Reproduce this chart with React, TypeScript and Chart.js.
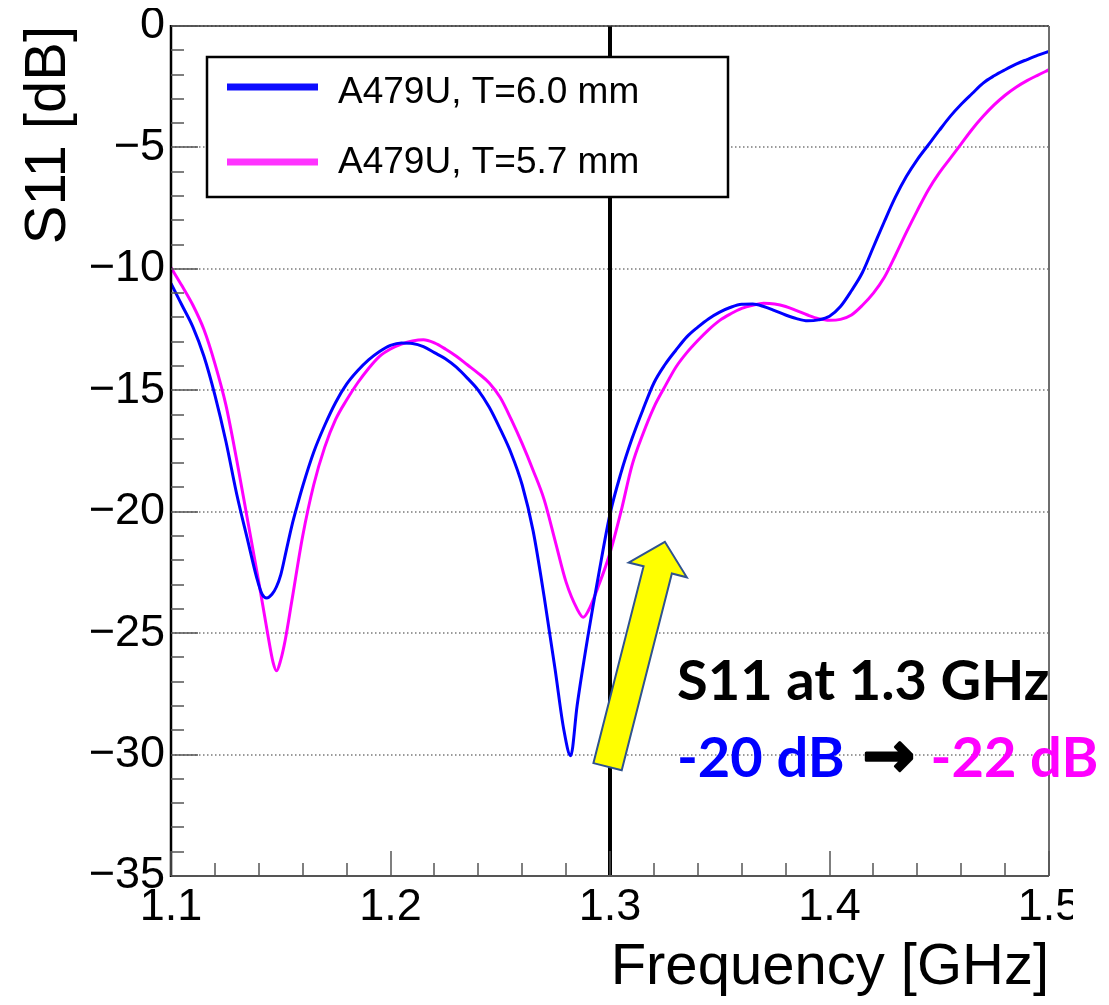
import React, { useEffect, useRef } from 'react';
import { Chart, registerables } from 'chart.js';

Chart.register(...registerables);

// ---- data ----
const seriesLabels = ['A479U, T=6.0 mm', 'A479U, T=5.7 mm'];
const seriesColors = ['#0000ff', '#ff00ff'];

const blueFreq = [
  1.100, 1.105, 1.110, 1.115, 1.120, 1.125, 1.130, 1.135, 1.139, 1.1415, 1.1436, 1.146, 1.148, 1.150,
  1.1525, 1.155, 1.1575, 1.160, 1.165, 1.170, 1.175, 1.180, 1.185, 1.190, 1.195, 1.200, 1.205, 1.210,
  1.215, 1.220, 1.225, 1.230, 1.235, 1.240, 1.245, 1.250, 1.255, 1.260, 1.265, 1.270, 1.275, 1.279,
  1.2821, 1.285, 1.290, 1.295, 1.300, 1.305, 1.310, 1.315, 1.320, 1.325, 1.330, 1.335, 1.340, 1.345,
  1.350, 1.355, 1.360, 1.365, 1.370, 1.375, 1.380, 1.385, 1.390, 1.395, 1.400, 1.405, 1.410, 1.415,
  1.420, 1.425, 1.430, 1.435, 1.440, 1.445, 1.450, 1.455, 1.460, 1.465, 1.470, 1.475, 1.480, 1.485,
  1.490, 1.495, 1.500,
];
const blueS11 = [
  -10.6, -11.5, -12.4, -13.6, -15.2, -17.1, -19.3, -21.2, -22.7, -23.4, -23.55, -23.4, -23.1, -22.6,
  -21.6, -20.6, -19.75, -18.95, -17.55, -16.45, -15.5, -14.75, -14.2, -13.75, -13.4, -13.15, -13.05, -13.07,
  -13.2, -13.45, -13.7, -14.05, -14.5, -15.0, -15.7, -16.6, -17.6, -18.9, -20.8, -23.5, -26.5, -29.0,
  -30.05, -28.0, -25.1, -22.5, -20.1, -18.4, -17.0, -15.8, -14.7, -13.95, -13.35, -12.8, -12.4, -12.05,
  -11.78, -11.58, -11.46, -11.45, -11.55, -11.72, -11.9, -12.05, -12.14, -12.1, -11.95, -11.55, -10.9, -10.15,
  -9.1, -8.05, -7.05, -6.2, -5.5, -4.9, -4.3, -3.72, -3.22, -2.78, -2.35, -2.05, -1.8, -1.57,
  -1.38, -1.2, -1.05,
];

const magentaFreq = [
  1.100, 1.105, 1.110, 1.115, 1.120, 1.125, 1.130, 1.135, 1.140, 1.144, 1.1465, 1.1481, 1.150, 1.152,
  1.155, 1.160, 1.165, 1.170, 1.175, 1.180, 1.185, 1.190, 1.195, 1.200, 1.205, 1.210, 1.215, 1.220,
  1.225, 1.230, 1.235, 1.240, 1.245, 1.250, 1.255, 1.260, 1.265, 1.270, 1.275, 1.280, 1.285, 1.2878,
  1.290, 1.295, 1.300, 1.305, 1.310, 1.315, 1.320, 1.325, 1.330, 1.335, 1.340, 1.345, 1.350, 1.355,
  1.360, 1.365, 1.370, 1.375, 1.380, 1.385, 1.390, 1.395, 1.400, 1.405, 1.410, 1.415, 1.420, 1.425,
  1.430, 1.435, 1.440, 1.445, 1.450, 1.455, 1.460, 1.465, 1.470, 1.475, 1.480, 1.485, 1.490, 1.495, 1.500,
];
const magentaS11 = [
  -9.95, -10.7, -11.5, -12.5, -13.9, -15.6, -17.9, -20.4, -22.9, -25.0, -26.2, -26.55, -26.1, -25.3,
  -23.7, -21.0, -18.9, -17.35, -16.2, -15.4, -14.7, -14.1, -13.6, -13.3, -13.1, -12.97, -12.92, -13.05,
  -13.3, -13.6, -13.95, -14.3, -14.7, -15.3, -16.2, -17.2, -18.3, -19.5, -21.2, -22.9, -24.0, -24.35,
  -24.1, -23.0, -21.7, -20.0, -18.1, -16.8, -15.7, -14.85, -14.05, -13.45, -12.95, -12.5, -12.12, -11.85,
  -11.63, -11.5, -11.42, -11.45, -11.55, -11.72, -11.9, -12.05, -12.12, -12.08, -11.9, -11.5, -11.0, -10.35,
  -9.45, -8.5, -7.6, -6.75, -6.05, -5.45, -4.85, -4.25, -3.72, -3.25, -2.85, -2.52, -2.25, -2.02, -1.8,
];

const xMin = 1.1;
const xMax = 1.5;
const xMajorStep = 0.1;
const xMinorStep = 0.02;
const yMin = -35;
const yMax = 0;
const yMajorStep = 5;
const yMinorStep = 1;

const markerFreq = 1.3;
const xTitle = 'Frequency [GHz]';
const yTitle = 'S11 [dB]';
const noteTitle = 'S11 at 1.3 GHz';
const noteFrom = '-20 dB';
const noteArrow = '\u2192';
const noteTo = '-22 dB';
// yellow arrow: tail and tip in data coordinates
const arrowTail = { x: 1.2989, y: -30.5 };
const arrowTip = { x: 1.325, y: -21.24 };
// note anchor in data coordinates
const noteAnchor = { x: 1.3305, y: -27.75 };
const noteLine2 = -30.93;

const W = 1093;
const H = 989;
const SANS = '"Liberation Sans", Arial, Helvetica, sans-serif';
const NOTE_FONT = 'Lato, "Open Sans", sans-serif';

const rootPlugin = {
  id: 'rootStyle',
  beforeDatasetsDraw(chart: any) {
    const { ctx, chartArea: a, scales } = chart;
    const y = scales.y;
    ctx.save();
    ctx.strokeStyle = '#7a7a7a';
    ctx.lineWidth = 1.5;
    ctx.setLineDash([1.5, 2.5]);
    const n = Math.round((yMax - yMin) / yMajorStep);
    for (let i = 0; i < n; i++) {
      const py = Math.round(y.getPixelForValue(yMax - i * yMajorStep));
      ctx.beginPath();
      ctx.moveTo(a.left, py);
      ctx.lineTo(a.right, py);
      ctx.stroke();
    }
    ctx.restore();
  },
  afterDatasetsDraw(chart: any) {
    const { ctx, chartArea: a, scales } = chart;
    const x = scales.x;
    const y = scales.y;
    ctx.save();

    // vertical marker line at 1.3 GHz
    const mx = x.getPixelForValue(markerFreq);
    ctx.strokeStyle = '#000';
    ctx.lineWidth = 4;
    ctx.beginPath();
    ctx.moveTo(mx, a.top);
    ctx.lineTo(mx, a.bottom);
    ctx.stroke();

    // frame
    ctx.lineWidth = 1.5;
    ctx.strokeStyle = '#333';
    ctx.beginPath();
    ctx.moveTo(a.left, a.top);
    ctx.lineTo(a.right, a.top);
    ctx.stroke();
    ctx.strokeStyle = '#6e6e6e';
    ctx.lineWidth = 2;
    ctx.beginPath();
    ctx.moveTo(a.right, a.top);
    ctx.lineTo(a.right, a.bottom);
    ctx.stroke();
    ctx.strokeStyle = '#555';
    ctx.beginPath();
    ctx.moveTo(a.left, a.bottom);
    ctx.lineTo(a.right, a.bottom);
    ctx.stroke();
    ctx.strokeStyle = '#000';
    ctx.lineWidth = 2.5;
    ctx.beginPath();
    ctx.moveTo(a.left, a.top - 1);
    ctx.lineTo(a.left, a.bottom + 1);
    ctx.stroke();

    // inward ticks (ROOT style)
    ctx.strokeStyle = '#555';
    ctx.lineWidth = 1.5;
    const ny = Math.round((yMax - yMin) / yMinorStep);
    const perMajorY = Math.round(yMajorStep / yMinorStep);
    for (let i = 0; i <= ny; i++) {
      const py = Math.round(y.getPixelForValue(yMax - i * yMinorStep));
      const len = i % perMajorY === 0 ? 27 : 13;
      ctx.beginPath();
      ctx.moveTo(a.left, py);
      ctx.lineTo(a.left + len, py);
      ctx.stroke();
    }
    const nx = Math.round((xMax - xMin) / xMinorStep);
    const perMajorX = Math.round(xMajorStep / xMinorStep);
    for (let i = 0; i <= nx; i++) {
      const px = Math.round(x.getPixelForValue(xMin + i * xMinorStep));
      const len = i % perMajorX === 0 ? 25 : 13;
      ctx.beginPath();
      ctx.moveTo(px, a.bottom);
      ctx.lineTo(px, a.bottom - len);
      ctx.stroke();
    }

    // legend box
    const lx = a.left + 36;
    const ly = a.top + 31;
    const lw = 521;
    const lh = 140;
    ctx.fillStyle = '#fff';
    ctx.fillRect(lx, ly, lw, lh);
    ctx.strokeStyle = '#000';
    ctx.lineWidth = 2.5;
    ctx.strokeRect(lx, ly, lw, lh);
    ctx.font = `37px ${SANS}`;
    ctx.textAlign = 'left';
    ctx.textBaseline = 'alphabetic';
    chart.data.datasets.forEach((ds: any, i: number) => {
      const rowY = ly + 30 + i * 75;
      ctx.strokeStyle = ds.borderColor;
      ctx.globalAlpha = i === 1 ? 0.8 : 0.95;
      ctx.lineWidth = 7;
      ctx.beginPath();
      ctx.moveTo(lx + 20, rowY);
      ctx.lineTo(lx + 111, rowY);
      ctx.stroke();
      ctx.globalAlpha = 1;
      ctx.fillStyle = '#000';
      ctx.fillText(ds.label, lx + 131, ly + 46 + i * 70);
    });

    // yellow block arrow
    const t = { x: x.getPixelForValue(arrowTail.x), y: y.getPixelForValue(arrowTail.y) };
    const p = { x: x.getPixelForValue(arrowTip.x), y: y.getPixelForValue(arrowTip.y) };
    const dx = p.x - t.x;
    const dy = p.y - t.y;
    const L = Math.hypot(dx, dy);
    const ux = dx / L;
    const uy = dy / L;
    const nxv = -uy;
    const nyv = ux;
    const sw = 14.6;
    const hw = 30;
    const hl = 29;
    const bx = p.x - ux * hl;
    const by = p.y - uy * hl;
    const pts = [
      [t.x + nxv * sw, t.y + nyv * sw],
      [bx + nxv * sw, by + nyv * sw],
      [bx + nxv * hw, by + nyv * hw],
      [p.x, p.y],
      [bx - nxv * hw, by - nyv * hw],
      [bx - nxv * sw, by - nyv * sw],
      [t.x - nxv * sw, t.y - nyv * sw],
    ];
    ctx.beginPath();
    pts.forEach(([qx, qy], i) => (i === 0 ? ctx.moveTo(qx, qy) : ctx.lineTo(qx, qy)));
    ctx.closePath();
    ctx.fillStyle = '#ffff00';
    ctx.fill();
    ctx.strokeStyle = '#2f528f';
    ctx.lineWidth = 2;
    ctx.lineJoin = 'miter';
    ctx.stroke();

    // annotation text
    const ax = x.getPixelForValue(noteAnchor.x);
    const ay1 = y.getPixelForValue(noteAnchor.y);
    const ay2 = y.getPixelForValue(noteLine2);
    ctx.font = `bold 56px ${NOTE_FONT}`;
    ctx.fillStyle = '#000';
    ctx.fillText(noteTitle, ax, ay1);
    ctx.fillStyle = seriesColors[0];
    ctx.fillText(noteFrom, ax, ay2);
    let cx = ax + ctx.measureText(noteFrom).width + 18;
    ctx.font = `bold 62px "DejaVu Sans", sans-serif`;
    ctx.fillStyle = '#000';
    ctx.strokeStyle = '#000';
    ctx.lineWidth = 3;
    ctx.lineJoin = 'round';
    ctx.strokeText(noteArrow, cx, ay2 - 1);
    ctx.fillText(noteArrow, cx, ay2 - 1);
    cx += ctx.measureText(noteArrow).width + 16;
    ctx.font = `bold 56px ${NOTE_FONT}`;
    ctx.fillStyle = seriesColors[1];
    ctx.fillText(noteTo, cx, ay2);

    ctx.restore();
  },
  afterDraw(chart: any) {
    // the reference screenshot is cropped through the last x label
    const { ctx, chartArea: a } = chart;
    ctx.save();
    ctx.fillStyle = '#fff';
    ctx.fillRect(a.right + 24, a.bottom + 3, 60, 70);
    ctx.restore();
  },
};

export default function App() {
  const ref = useRef<HTMLCanvasElement>(null);
  useEffect(() => {
    if (!ref.current) return;
    const chart = new Chart(ref.current, {
      type: 'line',
      data: {
        datasets: [
          {
            label: seriesLabels[0],
            data: blueFreq.map((f, i) => ({ x: f, y: blueS11[i] })),
            borderColor: seriesColors[0],
            borderWidth: 3,
            pointRadius: 0,
            fill: false,
            cubicInterpolationMode: 'monotone',
          },
          {
            label: seriesLabels[1],
            data: magentaFreq.map((f, i) => ({ x: f, y: magentaS11[i] })),
            borderColor: seriesColors[1],
            borderWidth: 3,
            pointRadius: 0,
            fill: false,
            cubicInterpolationMode: 'monotone',
          },
        ],
      },
      options: {
        animation: false,
        responsive: false,
        devicePixelRatio: 1,
        layout: { padding: { top: 18, right: 52, left: 0, bottom: 0 } },
        plugins: { legend: { display: false }, tooltip: { enabled: false } },
        scales: {
          x: {
            type: 'linear',
            min: xMin,
            max: xMax,
            afterFit: (s: any) => {
              s.height = 121;
              s.paddingLeft = 0;
              s.paddingRight = 0;
            },
            grid: { display: false, drawTicks: false },
            border: { display: false },
            ticks: {
              stepSize: xMajorStep,
              autoSkip: false,
              maxRotation: 0,
              padding: 5,
              color: '#000',
              font: { family: SANS, size: 45 },
              callback: (v: any) => Number(v).toFixed(1),
            },
            title: {
              display: true,
              text: xTitle,
              align: 'end',
              color: '#000',
              font: { family: SANS, size: 58, lineHeight: 1 },
              padding: { top: 0, bottom: 0 },
            },
          },
          y: {
            type: 'linear',
            min: yMin,
            max: yMax,
            afterFit: (s: any) => {
              s.width = 163;
              s.paddingTop = 0;
              s.paddingBottom = 0;
            },
            grid: { display: false, drawTicks: false },
            border: { display: false },
            ticks: {
              stepSize: yMajorStep,
              autoSkip: false,
              padding: 6,
              color: '#000',
              font: { family: SANS, size: 45 },
              callback: (v: any) => {
                const n = Math.round(Number(v));
                return n < 0 ? '\u2212' + Math.abs(n) : String(n);
              },
            },
            title: {
              display: true,
              text: yTitle,
              align: 'end',
              color: '#000',
              font: { family: SANS, size: 58, lineHeight: 1 },
              padding: { top: 12, bottom: 0 },
            },
          },
        },
      },
      plugins: [rootPlugin],
    } as any);
    return () => chart.destroy();
  }, []);
  return (
    <div style={{ width: W, height: H }}>
      <canvas ref={ref} width={W} height={H} style={{ display: 'block' }} />
    </div>
  );
}
